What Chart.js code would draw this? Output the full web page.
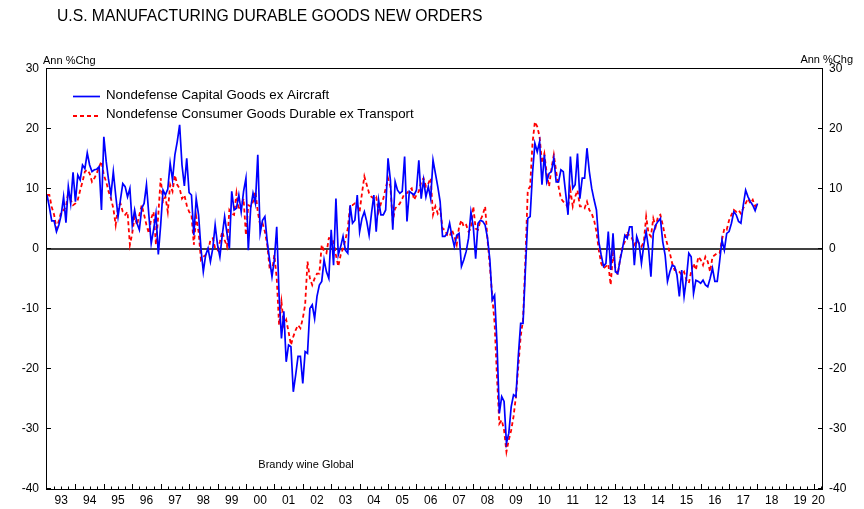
<!DOCTYPE html>
<html>
<head>
<meta charset="utf-8">
<script src="https://cdn.jsdelivr.net/npm/chart.js@4.4.1/dist/chart.umd.min.js"></script>
<style>
  html, body { margin: 0; padding: 0; background: #fff; }
  #wrap { width: 864px; height: 509px; }
</style>
</head>
<body>
<div id="wrap"><canvas id="c" width="864" height="509"></canvas></div>
<script>
// ---- data ----
const chartTitle = 'U.S. MANUFACTURING DURABLE GOODS NEW ORDERS';
const axisUnit = 'Ann %Chg';
const sourceNote = 'Brandy wine Global';
const seriesNames = ['Nondefense Capital Goods ex Aircraft', 'Nondefense Consumer Goods Durable ex Transport'];
const startYear = 1993; // monthly data from Jan 1993
const xMin = 1993;
const xMax = 2020.27;
const xTickLabels = ['93','94','95','96','97','98','99','00','01','02','03','04','05','06','07','08','09','10','11','12','13','14','15','16','17','18','19','20'];
const yTicks = [30, 20, 10, 0, -10, -20, -30, -40];

const capitalGoods = [
  9, 7, 4.7, 4.7, 2.9, 4, 5.7, 8.7, 4.4, 10.4, 7.6, 12.8,
  7.9, 12.3, 11.5, 14, 13.4, 16, 14, 12.9, 13.2, 13.3, 13.7, 6.5,
  18.7, 14.6, 11.5, 9, 12.9, 9, 5.4, 8.2, 10.9, 10.4, 8.7, 10.1,
  4, 6.5, 4.3, 3.2, 6.8, 7.6, 10.7, 5.7, 0.9, 3.2, 5.9, -0.9,
  4, 9.8, 9, 10, 14.3, 11.5, 15.7, 17.9, 20.7, 14, 10.5, 15.1,
  9.4, 9, 2.3, 8.4, 5.7, 0.1, -3.8, -1, 0.1, -2.1, 0.1, 4,
  0.7, -1.3, 2.3, 5.4, 2.6, 0.1, 9.6, 6.5, 6.8, 9, 6.2, 9.6,
  11.8, -0.2, 6.8, 9.3, 7.6, 15.7, 2.6, 4.8, 5.4, 1.2, -1.8, -4.6,
  -1.8, 3.7, -7.7, -14.9, -10.4, -18.8, -16, -16.3, -23.8, -21, -17.9, -17.9,
  -22.4, -17.1, -17.4, -9.9, -9.3, -11.6, -7.9, -6, -5.4, -1.8, -3.8, -4.9,
  3.2, -2.7, 8.4, -1, 0.4, 2.1, -0.2, -0.7, 7.3, 4.3, 4.8, 9,
  2.9, 5.1, 6.2, 4.6, 2.3, 5.9, 9, 2.9, 8.2, 5.7, 5.7, 6.5,
  15.1, 11.5, 3.2, 11.2, 9.8, 9.3, 9.6, 15.4, 4.6, 9.6, 9.3, 9,
  9.8, 14.8, 8.4, 11.5, 8.7, 10.4, 8.4, 14.8, 12.6, 10.4, 7.9, 2.1,
  2.1, 2.6, 4.3, 2.1, 0.4, 2.3, 2.6, -2.9, -1.8, -0.4, 1.8, 6.2,
  3.7, -1.6, 4.3, 4.8, 4.6, 4, 1.8, -1.8, -8.5, -7.7, -15.7, -27.4,
  -24.6, -25.4, -32.4, -30.7, -26.3, -24.3, -24.6, -17.9, -12.4, -12.4, -3.5, 5.1,
  5.4, 12.6, 17.6, 16.2, 17.9, 10.7, 15.7, 11.2, 12.6, 12.9, 15.1, 11.2,
  11.2, 13.2, 12.9, 9.3, 5.7, 15.4, 10.1, 10.7, 15.9, 8.4, 11.8, 11.8,
  16.8, 12.9, 10.1, 8.2, 6.5, 1.2, -1, -2.9, -2.4, 2.9, -3.5, 2.6,
  -3.8, -4.1, -1.8, 0.1, 2.3, 1.8, 3.7, 3.7, -2.7, 2.1, 0.9, -2.4,
  0.7, 2.9, 0.1, -4.6, 2.6, 4, 4.6, 5.1, 1.2, -1, -5.4, -3.8,
  -2.7, -2.9, -4.3, -7.9, -3.5, -7.9, -4.9, -0.7, -1.3, -7.4, -5.2, -5.4,
  -5.7, -5.2, -6, -6.3, -4.9, -3.2, -5.4, -5.4, -2.1, 1.5, -0.2, 2.6,
  2.9, 4.3, 6.2, 5.7, 4.6, 4.3, 7.3, 9.8, 8.7, 7.9, 7.3, 6.4,
  7.6
];

const consumerGoods = [
  9, 9, 7, 5.7, 3.4, 4.7, 6.2, 6.5, 7, 9.6, 8.2, 7.3,
  7.6, 8.2, 9.8, 11.2, 12.9, 13.2, 12.6, 11.2, 11.8, 12.6, 13.7, 14.6,
  12.3, 11.2, 9.6, 8.4, 6.8, 4, 7, 7.6, 6.2, 5.7, 6.2, 0.7,
  2.6, 5.4, 4, 5.7, 7.3, 5.7, 4, 2.6, 5.1, 6.2, 0.7, 5.7,
  11.8, 7.9, 8.7, 6.2, 10.7, 9.6, 12.3, 10.7, 10.1, 8.4, 9, 7.3,
  6.2, 5.7, 0.7, 5.4, 2.9, -1.8, -1.3, -1, -0.4, 1.5, 1.8, 0.1,
  -0.2, 1.2, 2.9, 1.5, 0.4, 6.5, 5.9, 5.7, 9.3, 6.5, 7.1, 8.4,
  2.3, 7.3, 7.1, 7.9, 9.6, 6.2, 4, 4.3, 2.9, 0.7, -3.2, -3.8,
  -1, -4.9, -12.7, -8.8, -12.7, -11.8, -13.8, -16, -14.6, -13.5, -12.7, -13.2,
  -11.6, -9.3, -2.1, -4.9, -6, -4.9, -4.1, -4.1, 0.7, -0.4, -0.7, 1.8,
  1.8, 1.2, -1, -2.9, -1, 0.1, 1.5, 3.4, 7.3, 7.3, 7.6, 7.3,
  6.2, 9.3, 12.1, 10.7, 9.3, 8.7, 8.4, 8.7, 6.2, 7.6, 8.4, 10.1,
  11.8, 10.4, 4.6, 6.8, 7.1, 7.6, 8.4, 9.3, 9.3, 9.8, 10.1, 8.2,
  9, 9.6, 11.2, 11.8, 10.4, 10.9, 11.8, 5.7, 7.1, 5.9, 6.8, 3.4,
  3.2, 2.3, 2.1, 3.2, 2.1, 0.7, 3.7, 4.8, 3.7, 4, 2.9, 3.4,
  7.1, 3.4, 3.2, 4.8, 5.7, 7.1, 1.5, -2.9, -7.9, -12.4, -21.3, -29.1,
  -28.5, -30.2, -33.8, -31.8, -30.2, -27.9, -24.6, -19.6, -14.6, -11.8, -1.8, 9.8,
  10.4, 17.6, 21.2, 20.4, 18.7, 14.3, 15.9, 12.6, 10.4, 13.4, 15.7, 12.9,
  10.4, 8.4, 7.9, 7.6, 6.8, 9.8, 7.1, 8.7, 9.8, 7.1, 7.1, 6.8,
  7.9, 6.5, 5.9, 4.8, 2.9, -0.2, -2.4, -3.2, -2.9, -2.5, -6, -0.7,
  -3.2, -4.3, -1.6, 0.4, 1.2, 2.9, 2.1, 1.8, 0.7, 1.5, 0.9, 0.4,
  1.2, 5.4, 2.6, 2.1, 5.1, 3.7, 5.4, 5.7, 4, 2.1, 0.7, -0.7,
  -2.4, -3.5, -3.5, -3.8, -4.3, -3.8, -5.2, -5.7, -3.8, -2.4, -3.5, -1.3,
  -1.8, -2.7, -1.3, -2.1, -3.8, -1.3, -1, -0.7, -0.7, 1.5, 3.4, 3.2,
  4.8, 5.7, 6.5, 6.2, 6.5, 5.9, 6.8, 7.6, 8.4, 7.6, 8.2, 7.1,
  7.6
];

// ---- chart ----
const FONT = "'Liberation Sans', Arial, Helvetica, sans-serif";
const toPoints = (arr) => arr.map((v, i) => ({ x: startYear + i / 12, y: v }));

// label positions: middle of each year, last one centred in the visible part
const xLabelPositions = xTickLabels.map((_, i) => {
  const a = xMin + i, b = Math.min(xMin + i + 1, xMax);
  return (a + b) / 2;
});

const decor = {
  id: 'decor',
  beforeDatasetsDraw(chart) {
    const { ctx, chartArea: a, scales } = chart;
    const y0 = scales.y.getPixelForValue(0);
    ctx.save();
    ctx.strokeStyle = '#000';
    ctx.lineWidth = 1.5;
    ctx.beginPath();
    ctx.moveTo(a.left, y0);
    ctx.lineTo(a.right, y0);
    ctx.stroke();
    ctx.restore();
  },
  afterDatasetsDraw(chart) {
    const { ctx, chartArea: a, scales } = chart;
    ctx.save();
    // frame
    ctx.strokeStyle = '#000';
    ctx.lineWidth = 1;
    ctx.strokeRect(Math.round(a.left) - 0.5, Math.round(a.top) - 0.5,
                   Math.round(a.right - a.left) + 1, Math.round(a.bottom - a.top) + 1);
    // y ticks (inward)
    ctx.beginPath();
    yTicks.forEach(v => {
      const py = Math.round(scales.y.getPixelForValue(v)) - 0.5;
      ctx.moveTo(a.left, py); ctx.lineTo(a.left + 4, py);
      ctx.moveTo(a.right - 4, py); ctx.lineTo(a.right, py);
    });
    // x ticks: quarterly minor, yearly major (inward)
    for (let q = xMin * 4 + 1; q / 4 < xMax; q++) {
      const v = q / 4;
      const px = Math.round(scales.x.getPixelForValue(v)) + 0.5;
      const len = (q % 4 === 0) ? 5 : 2.5;
      ctx.moveTo(px, a.bottom);
      ctx.lineTo(px, a.bottom - len);
    }
    ctx.stroke();

    // title
    ctx.fillStyle = '#000';
    ctx.textAlign = 'left';
    ctx.textBaseline = 'alphabetic';
    ctx.font = '15.7px ' + FONT;
    ctx.fillText(chartTitle, 57, 21);

    // unit labels
    ctx.font = '11px ' + FONT;
    ctx.fillText(axisUnit, 43, 63.5);
    ctx.textAlign = 'right';
    ctx.fillText(axisUnit, 853, 63);

    // source
    ctx.textAlign = 'center';
    ctx.fillText(sourceNote, 306, 468);

    // legend
    const ds = chart.data.datasets;
    const rows = [{ ly: 96.5, ty: 99 }, { ly: 116, ty: 118 }];
    ds.forEach((d, i) => {
      ctx.save();
      ctx.strokeStyle = d.borderColor;
      ctx.lineWidth = d.borderWidth;
      ctx.setLineDash(d.borderDash || []);
      ctx.beginPath();
      ctx.moveTo(73, rows[i].ly);
      ctx.lineTo(100, rows[i].ly);
      ctx.stroke();
      ctx.restore();
      ctx.fillStyle = '#000';
      ctx.textAlign = 'left';
      ctx.font = '13.3px ' + FONT;
      ctx.fillText(d.label, 106, rows[i].ty);
    });
    ctx.restore();
  }
};

const yAxisCommon = {
  type: 'linear',
  min: -40,
  max: 30,
  afterBuildTicks: (s) => { s.ticks = yTicks.map(v => ({ value: v })); },
  grid: { display: false, drawTicks: false },
  border: { display: false },
};

new Chart(document.getElementById('c'), {
  type: 'line',
  data: {
    datasets: [
      {
        label: seriesNames[0],
        data: toPoints(capitalGoods),
        borderColor: '#0000ff',
        borderWidth: 1.7,
        pointRadius: 0,
        tension: 0,
        fill: false
      },
      {
        label: seriesNames[1],
        data: toPoints(consumerGoods),
        borderColor: '#ff0000',
        borderWidth: 1.8,
        borderDash: [4, 3],
        pointRadius: 0,
        tension: 0,
        fill: false
      }
    ]
  },
  options: {
    responsive: false,
    animation: false,
    devicePixelRatio: 1,
    layout: { padding: { top: 69, left: 0, right: 0, bottom: 0 } },
    plugins: { legend: { display: false }, tooltip: { enabled: false }, title: { display: false } },
    scales: {
      x: {
        type: 'linear',
        position: 'bottom',
        min: xMin,
        max: xMax,
        afterBuildTicks: (s) => { s.ticks = xLabelPositions.map(v => ({ value: v })); },
        afterFit: (s) => { s.height = 20; },
        grid: { display: false, drawTicks: false },
        border: { display: false },
        ticks: {
          autoSkip: false, maxRotation: 0, minRotation: 0, padding: 4,
          color: '#000', font: { family: FONT, size: 12 },
          callback: (value, index) => xTickLabels[index]
        }
      },
      y: Object.assign({}, yAxisCommon, {
        position: 'left',
        afterFit: (s) => { s.width = 47; },
        ticks: { padding: 8, color: '#000', font: { family: FONT, size: 12 } }
      }),
      y2: Object.assign({}, yAxisCommon, {
        position: 'right',
        afterFit: (s) => { s.width = 42; },
        ticks: { padding: 7, color: '#000', font: { family: FONT, size: 12 } }
      })
    }
  },
  plugins: [decor]
});
</script>
</body>
</html>
